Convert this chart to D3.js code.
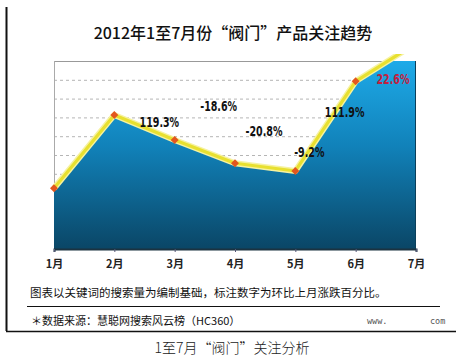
<!DOCTYPE html>
<html><head><meta charset="utf-8">
<script src="https://cdn.jsdelivr.net/npm/d3@7"></script>
<style>
html,body{margin:0;padding:0;background:#fff;}
svg{display:block;}
</style></head>
<body>
<script>
// ---- data ----
const months = ["1月","2月","3月","4月","5月","6月","7月"];
const searchIndex = [3.23, 7.13, 5.80, 4.56, 4.15, 8.92, 10.94];
const changeLabels = ["", "119.3%", "-18.6%", "-20.8%", "-9.2%", "111.9%", "22.6%"];
const yTicks = [0,1,2,3,4,5,6,7,8,9,10];
const titleText = "2012年1至7月份“阀门”产品关注趋势";
const noteText = "图表以关键词的搜索量为编制基础，标注数字为环比上月涨跌百分比。";
const sourceText = "＊数据来源：慧聪网搜索风云榜（HC360）";
const captionText = "1至7月“阀门”关注分析";

// ---- layout ----
const W = 464, H = 362;
const plot = {left: 54, right: 416, top: 61, bottom: 249};
// label offsets relative to their data point (layout only)
const labelOffsets = [[0,0],[45,12],[44,-29],[29,-27],[14,-14],[-11,36],[-23,41]];
const condense = 0.68;

const svg = d3.select("body").append("svg").attr("width", W).attr("height", H);

const x = d3.scalePoint().domain(months).range([plot.left, plot.right]);
const y = d3.scaleLinear().domain([0, 10]).range([plot.bottom, plot.top]);

const defs = svg.append("defs");
const grad = defs.append("linearGradient").attr("id","areaGrad")
  .attr("gradientUnits","userSpaceOnUse")
  .attr("x1",0).attr("x2",0).attr("y1",plot.top).attr("y2",plot.bottom);
grad.append("stop").attr("offset","0%").attr("stop-color","#1eaae8");
grad.append("stop").attr("offset","45%").attr("stop-color","#1182ba");
grad.append("stop").attr("offset","100%").attr("stop-color","#0a4666");
defs.append("clipPath").attr("id","plotClip").append("rect")
  .attr("x",plot.left).attr("y",plot.top)
  .attr("width",plot.right-plot.left).attr("height",plot.bottom-plot.top);
defs.append("clipPath").attr("id","lineClip").append("rect")
  .attr("x",plot.left-10).attr("y",54)
  .attr("width",plot.right-plot.left+10).attr("height",plot.bottom-54+10);

// outer frame
svg.append("line").attr("x1",6.5).attr("x2",6.5).attr("y1",7).attr("y2",331)
  .attr("stroke","#111").attr("stroke-width",2);
svg.append("line").attr("x1",6).attr("x2",456).attr("y1",331.5).attr("y2",331.5)
  .attr("stroke","#111").attr("stroke-width",1.6);
svg.append("line").attr("x1",27).attr("x2",440).attr("y1",306.5).attr("y2",306.5)
  .attr("stroke","#111").attr("stroke-width",1);

// title
svg.append("text").attr("x",233).attr("y",39).attr("text-anchor","middle")
  .attr("font-family","'Noto Sans CJK SC', sans-serif").attr("font-size",16)
  .attr("font-weight",500).attr("fill","#111").text(titleText);

// grid
const yAxis = d3.axisLeft(y).tickValues(yTicks).tickSize(-(plot.right-plot.left)).tickFormat("");
const gy = svg.append("g").attr("transform",`translate(${plot.left},0)`).call(yAxis);
gy.select(".domain").remove();
gy.selectAll(".tick line").attr("stroke","#b5b5b5").attr("stroke-dasharray","3,3")
  .filter(d => d === 10).attr("stroke-dasharray",null).attr("stroke","#999");
svg.append("line").attr("x1",plot.left+0.5).attr("x2",plot.left+0.5)
  .attr("y1",plot.top).attr("y2",plot.bottom).attr("stroke","#aaa");

// area
const area = d3.area().x((d,i)=>x(months[i])).y0(plot.bottom).y1(d=>y(d));
svg.append("path").datum(searchIndex).attr("clip-path","url(#plotClip)")
  .attr("d",area).attr("fill","url(#areaGrad)");
svg.append("line").attr("x1",plot.right-0.5).attr("x2",plot.right-0.5)
  .attr("y1",plot.top).attr("y2",plot.bottom).attr("stroke","#0b3f5a").attr("stroke-width",1);

// x axis
const xAxis = d3.axisBottom(x).tickSize(3).tickPadding(8);
const gx = svg.append("g").attr("transform",`translate(0,${plot.bottom})`).call(xAxis);
gx.select(".domain").attr("stroke","#1b3341").attr("stroke-width",2);
gx.selectAll(".tick line").attr("stroke","#557");
gx.selectAll(".tick text").attr("font-family","'Noto Sans CJK SC', sans-serif")
  .attr("font-size",11).attr("font-weight",700).attr("fill","#222");

// line
const line = d3.line().x((d,i)=>x(months[i])).y(d=>y(d));
const lg = svg.append("g").attr("clip-path","url(#lineClip)");
lg.append("path").datum(searchIndex).attr("d",line).attr("fill","none")
  .attr("stroke","#f6f2a0").attr("stroke-width",6).attr("stroke-linejoin","round");
lg.append("path").datum(searchIndex).attr("d",line).attr("fill","none")
  .attr("stroke","#e8e030").attr("stroke-width",3.2).attr("stroke-linejoin","round");

// markers (exclude clipped last point)
const sym = d3.symbol().type(d3.symbolDiamond2).size(40);
svg.selectAll(".mk").data(searchIndex.slice(0,6)).join("path").attr("class","mk")
  .attr("transform",(d,i)=>`translate(${x(months[i])},${y(d)})`)
  .attr("d",sym).attr("fill","#e2561e");

// change labels
const labelData = changeLabels.map((t,i)=>({t,i})).filter(d=>d.t!=="");
svg.selectAll(".lbl").data(labelData).join("text").attr("class","lbl")
  .attr("transform",d=>`translate(${x(months[d.i])+labelOffsets[d.i][0]},${y(searchIndex[d.i])+labelOffsets[d.i][1]}) scale(${condense},1)`)
  .attr("text-anchor","middle")
  .attr("font-family","'DejaVu Sans',sans-serif")
  .attr("font-weight",700).attr("font-size",14)
  .attr("fill",d=>d.t==="22.6%"?"#c3203e":"#111")
  .text(d=>d.t);

// notes
svg.append("text").attr("x",30).attr("y",297)
  .attr("font-family","'Noto Sans CJK SC', sans-serif").attr("font-size",11.5)
  .attr("fill","#111").text(noteText);
svg.append("text").attr("x",31).attr("y",325)
  .attr("font-family","'Noto Sans CJK SC', sans-serif").attr("font-size",11)
  .attr("fill","#111").text(sourceText);
svg.append("text").attr("x",367).attr("y",324)
  .attr("font-family","'DejaVu Sans Mono', monospace").attr("font-size",8.5)
  .attr("fill","#555").text("www.");
svg.append("text").attr("x",430).attr("y",324)
  .attr("font-family","'DejaVu Sans Mono', monospace").attr("font-size",8.5)
  .attr("fill","#555").text("com");

// caption
svg.append("text").attr("x",232).attr("y",353).attr("text-anchor","middle")
  .attr("font-family","'Noto Sans CJK SC', sans-serif").attr("font-size",14)
  .attr("font-weight",300).attr("fill","#222").text(captionText);
</script>
</body></html>
